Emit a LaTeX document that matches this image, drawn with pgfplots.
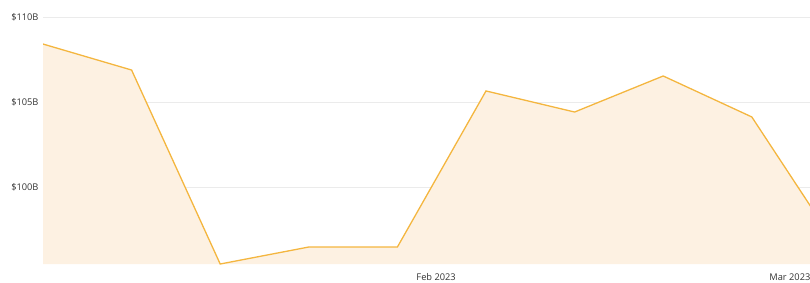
\documentclass[border=0pt]{standalone}
\usepackage{pgfplots}
\pgfplotsset{compat=1.18}
\usepackage{fontspec}
\setmainfont{Open Sans}
\definecolor{lineC}{HTML}{F4B63F}
\definecolor{fillC}{HTML}{FDF1E2}
\definecolor{gridC}{HTML}{EBEBEB}
\definecolor{txtC}{HTML}{333333}
\begin{document}
\begin{tikzpicture}[x=1bp,y=1bp]
\begin{axis}[
  at={(43bp,18bp)}, anchor=south west,
  scale only axis, width=767bp, height=255.5bp,
  xmin=0, xmax=8.657, ymin=95.47, ymax=110.5,
  axis line style={draw=none},
  ymajorgrids, grid style={gridC, line width=0.8pt},
  ytick={100,105,110}, yticklabels={\$100B,\$105B,\$110B},
  xtick={4.437,8.43}, xticklabels={Feb 2023,Mar 2023},
  tick style={draw=none},
  /pgf/number format/assume math mode=true,
  ticklabel style={font=\fontsize{9.3}{11}\selectfont, text=txtC},
  yticklabel style={xshift=-1bp},
  xticklabel style={yshift=-6bp},
  clip=true,
]
\addplot[draw=none, fill=fillC] coordinates {
(0,108.41) (1,106.88) (2,95.47) (3,96.47) (4,96.47) (5,105.65) (6,104.41) (7,106.53) (8,104.12) (9,96.2)
} \closedcycle;
\addplot[lineC, line width=1.3pt] coordinates {
(0,108.41) (1,106.88) (2,95.47) (3,96.47) (4,96.47) (5,105.65) (6,104.41) (7,106.53) (8,104.12) (9,96.2)
};
\end{axis}
\pgfresetboundingbox
\useasboundingbox (0,0) rectangle (810,282);
\end{tikzpicture}
\end{document}
